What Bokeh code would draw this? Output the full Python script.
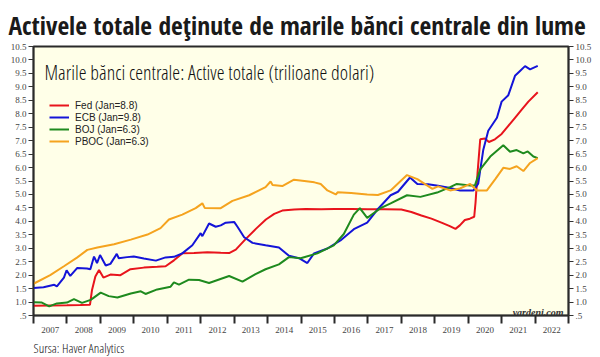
from bokeh.plotting import figure
from bokeh.models import (Range1d, LinearAxis, FixedTicker, Label, Legend, LegendItem, Title)
from bokeh.embed import file_html
from bokeh.resources import INLINE

# ---------------- data (trillions of US dollars) ----------------
fed_t = [2007.0, 2007.5, 2008.0, 2008.4, 2008.69, 2008.75, 2008.85, 2008.96, 2009.09, 2009.3,
         2009.6, 2009.9, 2010.3, 2010.7, 2010.95, 2011.2, 2011.45, 2011.8, 2012.2, 2012.6,
         2012.85, 2013.05, 2013.35, 2013.65, 2013.95, 2014.2, 2014.44, 2014.8, 2015.14, 2015.6,
         2016.0, 2016.5, 2017.0, 2017.5, 2018.0, 2018.3, 2018.6, 2018.9, 2019.2, 2019.45,
         2019.62, 2019.75, 2019.9, 2020.05, 2020.18, 2020.22, 2020.28, 2020.36, 2020.5, 2020.62,
         2020.8, 2021.0, 2021.2, 2021.4, 2021.6, 2021.8, 2022.08]
fed_v = [0.86, 0.87, 0.88, 0.89, 0.90, 1.45, 1.95, 2.19, 1.91, 2.02,
         2.00, 2.22, 2.28, 2.31, 2.33, 2.55, 2.81, 2.82, 2.85, 2.83,
         2.82, 2.95, 3.35, 3.72, 4.07, 4.28, 4.40, 4.44, 4.46, 4.45,
         4.46, 4.46, 4.45, 4.45, 4.44, 4.35, 4.22, 4.10, 3.95, 3.82,
         3.72, 3.85, 4.05, 4.10, 4.17, 4.70, 5.80, 7.05, 7.08, 6.95,
         7.05, 7.25, 7.55, 7.85, 8.15, 8.45, 8.80]

ecb_t = [2007.0, 2007.3, 2007.62, 2007.7, 2007.91, 2007.99, 2008.1, 2008.31, 2008.6, 2008.7,
         2008.81, 2008.9, 2008.99, 2009.16, 2009.3, 2009.49, 2009.55, 2009.8, 2010.0, 2010.3,
         2010.66, 2010.95, 2011.2, 2011.45, 2011.75, 2012.0, 2012.05, 2012.25, 2012.45, 2012.6,
         2012.75, 2013.0, 2013.1, 2013.3, 2013.55, 2013.94, 2014.34, 2014.64, 2014.94, 2015.19,
         2015.39, 2015.79, 2016.18, 2016.58, 2016.98, 2017.28, 2017.68, 2017.9, 2018.26, 2018.48,
         2018.8, 2019.1, 2019.46, 2019.76, 2020.16, 2020.3, 2020.45, 2020.6, 2020.86, 2021.0,
         2021.2, 2021.4, 2021.55, 2021.7, 2021.85, 2022.08]
ecb_v = [1.52, 1.55, 1.64, 1.58, 1.91, 2.18, 1.97, 2.27, 2.25, 2.22,
         2.69, 2.45, 2.75, 2.36, 2.42, 2.79, 2.63, 2.67, 2.69, 2.62,
         2.54, 2.66, 2.68, 2.81, 3.11, 3.56, 3.45, 3.92, 3.80, 3.85,
         3.95, 3.98, 3.80, 3.41, 3.20, 3.11, 3.03, 2.72, 2.63, 2.45,
         2.81, 2.99, 3.29, 3.71, 3.95, 4.43, 4.97, 5.10, 5.63, 5.39,
         5.38, 5.32, 5.24, 5.15, 5.15, 5.40, 6.65, 7.37, 7.85, 8.45,
         8.69, 9.41, 9.59, 9.77, 9.65, 9.78]

boj_t = [2007.0, 2007.25, 2007.47, 2007.7, 2008.0, 2008.21, 2008.45, 2008.71, 2009.01, 2009.25,
         2009.51, 2009.91, 2010.21, 2010.35, 2010.7, 2011.1, 2011.2, 2011.35, 2011.65, 2011.95,
         2012.25, 2012.85, 2013.25, 2013.64, 2013.94, 2014.34, 2014.64, 2014.99, 2015.49, 2015.98,
         2016.28, 2016.58, 2016.76, 2016.98, 2017.18, 2017.38, 2017.68, 2018.17, 2018.57, 2019.07,
         2019.46, 2019.66, 2020.06, 2020.2, 2020.36, 2020.66, 2021.05, 2021.25, 2021.45, 2021.65,
         2021.78, 2021.95, 2022.08]
boj_v = [0.99, 0.98, 0.84, 0.95, 0.98, 1.11, 0.97, 1.08, 1.35, 1.22,
         1.17, 1.32, 1.40, 1.30, 1.47, 1.57, 1.73, 1.65, 1.83, 1.82,
         1.71, 1.97, 1.76, 2.04, 2.22, 2.40, 2.67, 2.63, 2.81, 3.11,
         3.53, 4.25, 4.49, 4.13, 4.31, 4.49, 4.67, 4.97, 4.91, 5.07,
         5.27, 5.39, 5.33, 5.33, 5.93, 6.41, 6.83, 6.59, 6.65, 6.53,
         6.60, 6.41, 6.35]

pboc_t = [2007.0, 2007.5, 2007.91, 2008.3, 2008.61, 2008.91, 2009.41, 2009.91, 2010.41, 2010.8,
          2011.05, 2011.45, 2011.85, 2012.05, 2012.12, 2012.6, 2012.95, 2013.45, 2013.94, 2014.09,
          2014.15, 2014.44, 2014.79, 2015.1, 2015.4, 2015.59, 2015.79, 2016.04, 2016.1, 2016.5,
          2016.98, 2017.3, 2017.68, 2018.17, 2018.48, 2018.93, 2019.1, 2019.46, 2019.75, 2020.06,
          2020.26, 2020.56, 2020.81, 2021.05, 2021.25, 2021.45, 2021.65, 2021.85, 2022.08]
pboc_v = [1.68, 2.00, 2.33, 2.65, 2.94, 3.03, 3.15, 3.32, 3.51, 3.75,
          4.07, 4.25, 4.49, 4.67, 4.50, 4.49, 4.76, 4.97, 5.27, 5.48,
          5.35, 5.31, 5.55, 5.50, 5.45, 5.39, 5.15, 5.00, 5.08, 5.05,
          5.00, 4.98, 5.15, 5.72, 5.57, 5.21, 5.30, 5.15, 5.22, 5.39,
          5.15, 5.15, 5.57, 5.99, 5.95, 6.05, 5.87, 6.17, 6.35]

series_names = ["Fed (Jan=8.8)", "ECB (Jan=9.8)", "BOJ (Jan=6.3)", "PBOC (Jan=6.3)"]
series_colors = ["#E8141C", "#1414D8", "#1E8A1E", "#F5A31E"]

years = list(range(2007, 2023))
y_ticks = [0.5 + 0.5 * i for i in range(21)]

title_text = "Activele totale deţinute de marile bănci centrale din lume"
subtitle_text = "Marile bănci centrale: Active totale (trilioane dolari)"
source_text = "Sursa: Haver Analytics"
brand_text = "yardeni.com"

# ---------------- figure ----------------
W, H = 600, 357
L, R, T, B = 33, 32, 43, 36
x0, x1 = 2007, 2023
y0, y1 = 0.5, 10.5
fw, fh = W - L - R, H - T - B


def px2x(px):
    return x0 + (px - L) * (x1 - x0) / fw


def py2y(py):
    return y0 + (H - B - py) * (y1 - y0) / fh


p = figure(width=W, height=H, output_backend="svg", toolbar_location=None,
           x_range=Range1d(x0, x1), y_range=Range1d(y0, y1),
           min_border_left=L, min_border_right=R, min_border_top=T, min_border_bottom=B,
           x_axis_location="below", y_axis_location="left")
p.background_fill_color = "#FFFFE8"
p.border_fill_color = "white"
p.outline_line_color = "#2a2a2a"
p.outline_line_width = 2
p.xgrid.visible = False
p.ygrid.visible = False

p.title.text = title_text
p.title.text_font = "Open Sans Condensed"
p.title.text_font_style = "bold"
p.title.text_font_size = "25.5px"
p.title.text_color = "#1a1a1a"
p.title.align = "left"
p.title.offset = -25
p.title.standoff = 10

ytick_labels = {v: (".5" if v == 0.5 else f"{v:.1f}") for v in y_ticks}


def style_y(ax):
    ax.ticker = FixedTicker(ticks=y_ticks)
    ax.major_label_overrides = ytick_labels
    ax.major_tick_out = 5
    ax.major_tick_in = 0
    ax.minor_tick_out = 0
    ax.minor_tick_in = 0
    ax.major_tick_line_color = "#333333"
    ax.axis_line_color = "#2a2a2a"
    ax.axis_line_width = 1.5
    ax.major_label_text_font = "Liberation Serif"
    ax.major_label_text_font_size = "9px"
    ax.major_label_text_color = "#444444"
    ax.major_label_standoff = 2


style_y(p.yaxis[0])
ry = LinearAxis()
style_y(ry)
p.add_layout(ry, "right")

xa = p.xaxis[0]
xa.ticker = FixedTicker(ticks=[y + 0.5 for y in years], minor_ticks=list(range(2007, 2024)))
xa.major_label_overrides = {y + 0.5: str(y) for y in years}
xa.major_tick_out = 0
xa.major_tick_in = 0
xa.minor_tick_out = 8
xa.minor_tick_in = 0
xa.minor_tick_line_width = 2
xa.minor_tick_line_color = "#2a2a2a"
xa.axis_line_color = "#2a2a2a"
xa.axis_line_width = 1.5
xa.major_label_text_font = "Liberation Serif"
xa.major_label_text_font_size = "9px"
xa.major_label_text_color = "#444444"
xa.major_label_standoff = 3

p.add_layout(Title(text=source_text, align="left", text_font="Open Sans Condensed Light",
                   text_font_style="normal", text_font_size="13px",
                   text_color="#111111", standoff=2), "below")

renderers = []
for t, v, c in [(fed_t, fed_v, series_colors[0]), (ecb_t, ecb_v, series_colors[1]),
                (boj_t, boj_v, series_colors[2]), (pboc_t, pboc_v, series_colors[3])]:
    renderers.append(p.line(t, v, line_color=c, line_width=2))

legend = Legend(items=[LegendItem(label=n, renderers=[r]) for n, r in zip(series_names, renderers)],
                location=(16, 168), orientation="vertical",
                glyph_width=20, glyph_height=12, label_height=12, spacing=0,
                label_standoff=6, padding=0, margin=0,
                label_text_font="Liberation Sans", label_text_font_size="10px",
                label_text_color="#222222",
                background_fill_alpha=0, border_line_alpha=0)
p.add_layout(legend, "center")

p.add_layout(Label(x=px2x(44), y=py2y(70), text=subtitle_text,
                   text_font="Open Sans Condensed Light", text_font_size="20px",
                   text_color="#111111", text_baseline="alphabetic"))
p.add_layout(Label(x=px2x(563), y=py2y(318), text=brand_text,
                   text_font="Liberation Serif", text_font_style="bold italic",
                   text_font_size="10px", text_color="#333333",
                   text_baseline="alphabetic", text_align="right"))

open("out.html", "w").write(file_html(p, INLINE))
